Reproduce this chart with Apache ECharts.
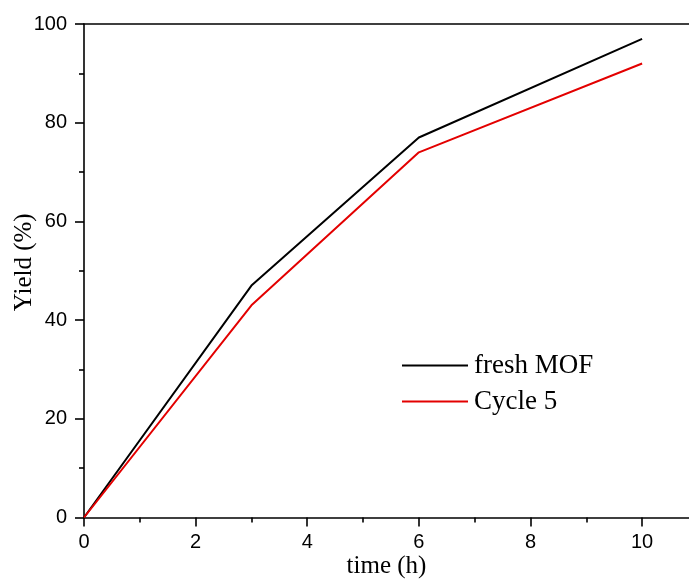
<!DOCTYPE html>
<html>
<head>
<meta charset="utf-8">
<script src="https://cdn.jsdelivr.net/npm/echarts@6/dist/echarts.min.js"></script>
<style>html,body{margin:0;padding:0;background:#fff;}#c{width:689px;height:582px;}</style>
</head>
<body>
<div id="c"></div>
<script>
const timeH = [0, 3, 6, 10];
const freshMOF = [0, 47, 77, 97];
const cycle5 = [0, 43, 74, 92];
const xTicks = [0, 2, 4, 6, 8, 10];
const seriesNames = ['fresh MOF', 'Cycle 5'];

const chart = echarts.init(document.getElementById('c'));
const axisLine = {show: true, lineStyle: {color: '#000', width: 1.6}};
chart.setOption({
  animation: false,
  backgroundColor: '#fff',
  grid: {left: 84, top: 24, right: 0, bottom: 64.5, containLabel: false, outerBoundsMode: 'none'},
  legend: {
    data: seriesNames,
    orient: 'vertical',
    left: 397, top: 347,
    icon: 'rect',
    itemWidth: 66, itemHeight: 2, itemGap: 9,
    textStyle: {fontFamily: 'Liberation Serif', fontSize: 27, color: '#000', padding: [0, 0, 0, 1]}
  },
  xAxis: [{
    type: 'value', min: 0, max: 10.84, interval: 2,
    position: 'bottom',
    name: 'time (h)', nameLocation: 'middle', nameGap: 36, nameMoveOverlap: false,
    nameTextStyle: {fontFamily: 'Liberation Serif', fontSize: 25, color: '#000'},
    axisLine: axisLine,
    axisTick: {show: true, inside: false, length: 9, lineStyle: {color: '#000', width: 1.6}, customValues: xTicks},
    minorTick: {show: true, splitNumber: 2, length: 5, lineStyle: {color: '#000', width: 1.6}},
    axisLabel: {fontFamily: 'Liberation Sans', fontSize: 20, color: '#000', margin: 15, customValues: xTicks},
    splitLine: {show: false}
  }, {
    type: 'value', min: 0, max: 10.84, position: 'top',
    axisLine: axisLine, axisTick: {show: false}, axisLabel: {show: false}, splitLine: {show: false}
  }],
  yAxis: {
    type: 'value', min: 0, max: 100, interval: 20,
    name: 'Yield (%)', nameLocation: 'middle', nameGap: 47, nameMoveOverlap: false,
    nameTextStyle: {fontFamily: 'Liberation Serif', fontSize: 25, color: '#000', padding: [0, 0, 0, 17]},
    axisLine: axisLine,
    axisTick: {show: true, inside: false, length: 9, lineStyle: {color: '#000', width: 1.6}},
    minorTick: {show: true, splitNumber: 2, length: 5, lineStyle: {color: '#000', width: 1.6}},
    axisLabel: {fontFamily: 'Liberation Sans', fontSize: 20, color: '#000', margin: 17},
    splitLine: {show: false}
  },
  series: [{
    name: seriesNames[0], type: 'line', symbol: 'none',
    data: timeH.map((t, i) => [t, freshMOF[i]]),
    lineStyle: {color: '#000', width: 2}, itemStyle: {color: '#000'}
  }, {
    name: seriesNames[1], type: 'line', symbol: 'none',
    data: timeH.map((t, i) => [t, cycle5[i]]),
    lineStyle: {color: '#e30000', width: 2}, itemStyle: {color: '#e30000'}
  }]
});
</script>
</body>
</html>
